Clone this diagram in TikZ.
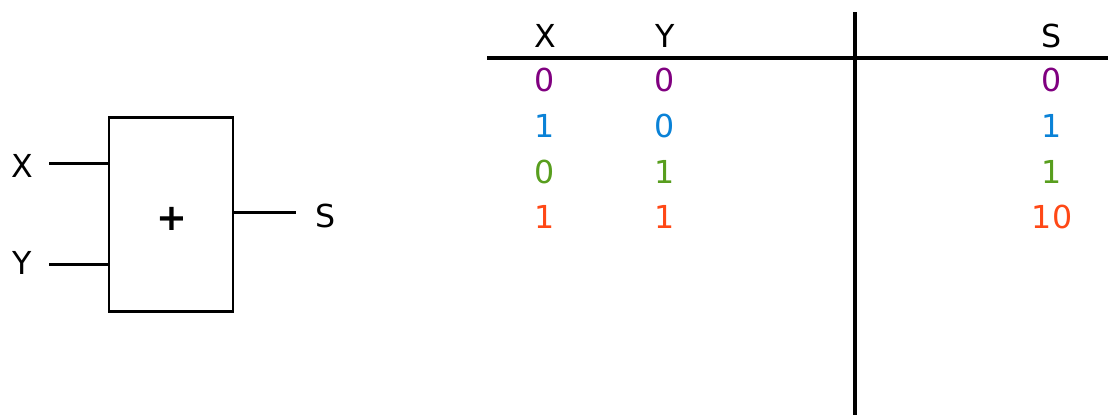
\documentclass[tikz,border=0pt]{standalone}
\usepackage{fontspec}
\setmainfont{DejaVu Sans}
\usepackage{xcolor}
\usetikzlibrary{positioning,calc}
\definecolor{rowpurple}{RGB}{128,0,128}
\definecolor{rowblue}{RGB}{10,130,215}
\definecolor{rowgreen}{RGB}{88,158,30}
\definecolor{rowred}{RGB}{255,72,22}

\begin{document}
\begin{tikzpicture}[
    wire/.style={line width=1.7pt},
    rule/.style={line width=2.1pt},
    label/.style={font=\fontsize{18}{21}\selectfont, inner sep=0pt},
    adder/.style={draw, line width=1.7pt, minimum width=2.48cm, minimum height=3.88cm, inner sep=0pt},
]
    \useasboundingbox (0,0) rectangle (22.16,-8.3);
    % Adder block
    \node[adder] (sum) at (3.42,-4.28) {};
    \node[font=\fontsize{21}{24}\selectfont\bfseries, inner sep=0pt] (plus) at (3.44,-4.38) {+};
    % Inputs and output
    \coordinate (inX) at (0.98,-3.26);
    \coordinate (inY) at (0.98,-5.28);
    \coordinate (outS) at (5.92,-4.24);
    \draw[wire] (inX) -- (inX -| sum.west);
    \draw[wire] (inY) -- (inY -| sum.west);
    \draw[wire] (outS -| sum.east) -- (outS);
    \node[label] (lX) at (0.44,-3.32) {X};
    \node[label] (lY) at (0.44,-5.26) {Y};
    \node[label] (lS) at (6.52,-4.32) {S};
    % Truth table
    \coordinate (hl) at (9.74,-1.16);
    \coordinate (hr) at (22.16,-1.16);
    \coordinate (vt) at (17.1,-0.24);
    \coordinate (vb) at (17.1,-8.3);
    \draw[rule] (hl) -- (hr);
    \draw[rule] (vt) -- (vb);
    \node[label] (hX) at (10.9,-0.72) {X};
    \node[label] (hY) at (13.3,-0.72) {Y};
    \node[label] (hS) at (21.04,-0.72) {S};
    % Rows
    \foreach \x/\y/\s/\c [count=\r] in {0/0/0/rowpurple,1/0/1/rowblue,0/1/1/rowgreen,1/1/10/rowred} {
        \pgfmathsetmacro{\ry}{-1.6 - (\r-1)*0.915}
        \node[label, text=\c] (x\r) at (10.9,\ry) {\x};
        \node[label, text=\c] (y\r) at (13.3,\ry) {\y};
        \node[label, text=\c] (s\r) at (21.04,\ry) {\s};
    }
\end{tikzpicture}
\end{document}
